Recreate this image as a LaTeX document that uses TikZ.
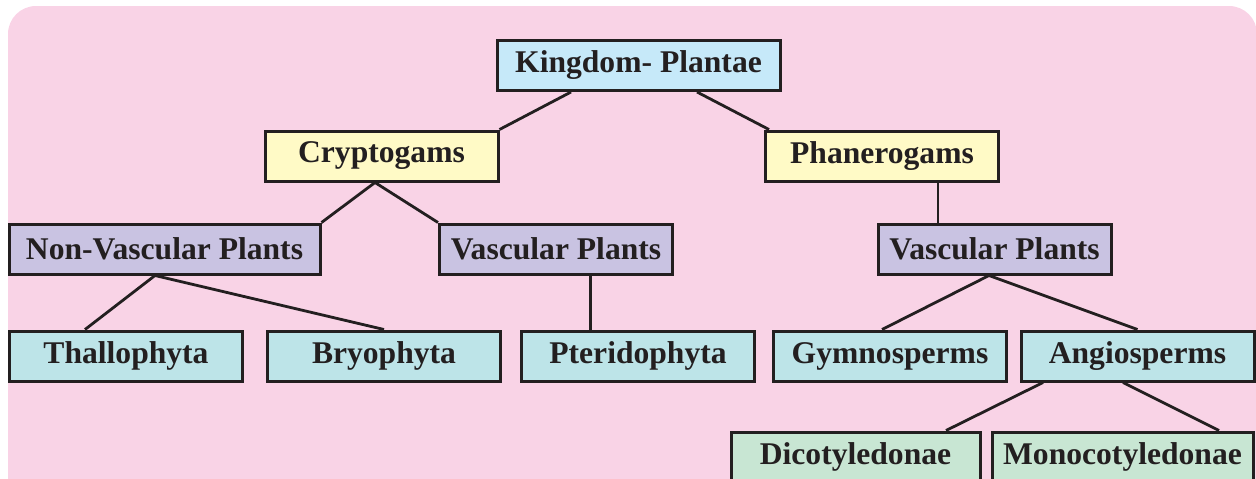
\documentclass[tikz,border=0pt]{standalone}
\usepackage{fontspec}
\setmainfont{Liberation Serif}
\usetikzlibrary{calc}
\definecolor{pinkbg}{HTML}{F9D3E6}
\definecolor{outline}{HTML}{231F20}
\definecolor{skyblue}{HTML}{C6E9F9}
\definecolor{paleyellow}{HTML}{FFFAC6}
\definecolor{lavender}{HTML}{C9C3E2}
\definecolor{paleteal}{HTML}{BDE4E8}
\definecolor{palegreen}{HTML}{C8E6D3}
\tikzset{
  basebox/.style={rectangle,draw=outline,line width=1.5pt,inner sep=0pt,minimum height=25pt,minimum width=116.5pt,align=center,font=\fontsize{15.8}{18}\selectfont\bfseries,text=outline},
  rootbox/.style={basebox,fill=skyblue,minimum width=141.5pt},
  groupbox/.style={basebox,fill=paleyellow},
  typebox/.style={basebox,fill=lavender},
  divbox/.style={basebox,fill=paleteal},
  classbox/.style={basebox,fill=palegreen},
  link/.style={line width=1.4pt,draw=outline}
}

\begin{document}
\begin{tikzpicture}[x=0.5pt,y=-0.5pt]
  \clip (0,0) rectangle (1256,478);
  \fill[pinkbg,rounded corners=14pt] (8,6) rectangle (1257,540);

  \node[rootbox] (kingdom) at (638.5,65.5) {Kingdom- Plantae};

  \node[groupbox] (crypto) at (381.5,156) {Cryptogams};
  \node[groupbox] (phanero) at (882,156) {Phanerogams};

  \node[typebox, minimum width=155.5pt] (nonvasc) at (164.5,249) {Non-Vascular Plants};
  \node[typebox] (vascleft) at (556,249) {Vascular Plants};
  \node[typebox] (vascright) at (994.5,249) {Vascular Plants};

  \node[divbox] (thallo) at (126,356) {Thallophyta};
  \node[divbox] (bryo) at (384,356) {Bryophyta};
  \node[divbox] (pterido) at (638,356) {Pteridophyta};
  \node[divbox] (gymno) at (890,356) {Gymnosperms};
  \node[divbox] (angio) at (1137.5,356) {Angiosperms};

  \node[classbox, minimum width=124.5pt] (dicot) at (855.5,457) {Dicotyledonae};
  \node[classbox, minimum width=130.5pt] (monocot) at (1122.5,457) {Monocotyledonae};

  % kingdom to its two groups
  \draw[link] ($(kingdom.south)+(-67.5,0)$) -- (crypto.north east);
  \draw[link] ($(kingdom.south)+(58.5,0)$) -- ($(phanero.north west)+(5,0)$);

  % cryptogams
  \draw[link] ($(crypto.south)+(-6.5,0)$) -- (nonvasc.north east);
  \draw[link] ($(crypto.south)+(-6.5,0)$) -- (vascleft.north west);

  % phanerogams
  \coordinate (phanfoot) at ($(phanero.south)+(56,0)$);
  \draw[link] (phanfoot) -- (phanfoot |- vascright.north);

  % divisions
  \draw[link] ($(nonvasc.south)+(-9.5,0)$) -- ($(thallo.north)+(-41,0)$);
  \draw[link] ($(nonvasc.south)+(-9.5,0)$) -- (bryo.north);
  \coordinate (vascfoot) at ($(vascleft.south)+(34.5,0)$);
  \draw[link] (vascfoot) -- (vascfoot |- pterido.north);
  \draw[link] ($(vascright.south)+(-5.5,0)$) -- ($(gymno.north)+(-8,0)$);
  \draw[link] ($(vascright.south)+(-5.5,0)$) -- (angio.north);

  % angiosperm classes
  \draw[link] ($(angio.south)+(-94.5,0)$) -- ($(dicot.north)+(90.5,0)$);
  \draw[link] ($(angio.south)+(-14.5,0)$) -- ($(monocot.north)+(96.5,0)$);
\end{tikzpicture}
\end{document}
